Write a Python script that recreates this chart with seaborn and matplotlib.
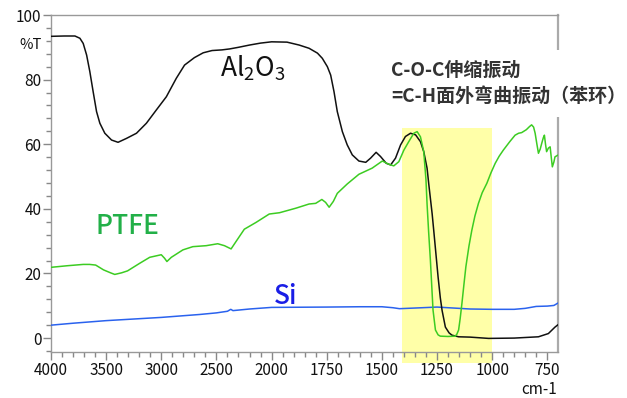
import numpy as np
import pandas as pd
import matplotlib
matplotlib.use("Agg")
import matplotlib.pyplot as plt
import seaborn as sns

# ---------------- data ----------------
al_x = [4000, 3880, 3783, 3738, 3708, 3677, 3648, 3618, 3587, 3557, 3512, 3451, 3392,
        3316, 3225, 3135, 3045, 2954, 2864, 2789, 2700, 2620, 2540, 2450, 2380, 2300,
        2200, 2100, 2000, 1930, 1875, 1830, 1792, 1770, 1747, 1732, 1717, 1702, 1679,
        1657, 1634, 1604, 1573, 1551, 1526, 1506, 1480, 1460, 1438, 1415, 1393, 1370,
        1347, 1325, 1310, 1295, 1287, 1272, 1265, 1245, 1235, 1227, 1212, 1195, 1182,
        1152, 1100, 1016, 900, 790, 745, 715, 700]
al_y = [93.4, 93.5, 93.5, 92.8, 91.2, 87.6, 82.5, 76.3, 70.1, 66.5, 63.4, 61.3, 60.6,
        61.8, 63.4, 66.5, 70.6, 74.7, 80.4, 84.5, 86.8, 88.3, 89.0, 89.2, 89.5, 90.0,
        90.7, 91.3, 91.7, 91.6, 90.7, 89.7, 88.2, 86.6, 84.0, 81.4, 76.3, 70.1, 63.9,
        59.8, 56.7, 54.8, 54.4, 55.7, 57.5, 56.2, 54.1, 53.6, 55.7, 59.8, 62.4, 63.4,
        62.9, 60.8, 57.7, 52.6, 47.5, 38.5, 33.5, 18.9, 12.5, 8.6, 3.4, 1.6, 0.9,
        0.4, 0.3, -0.1, 0.0, 0.4, 1.4, 3.4, 4.2]

ptfe_x = [4000, 3850, 3708, 3650, 3595, 3523, 3460, 3422, 3360, 3306, 3198, 3105, 3000,
          2970, 2949, 2909, 2804, 2714, 2593, 2488, 2427, 2367, 2322, 2247, 2141, 2021,
          1964, 1890, 1830, 1800, 1772, 1755, 1739, 1720, 1702, 1657, 1604, 1544, 1498,
          1468, 1446, 1423, 1400, 1378, 1355, 1340, 1325, 1310, 1300, 1295, 1288, 1280,
          1268, 1257, 1245, 1235, 1200, 1167, 1160, 1152, 1145, 1137, 1128, 1119, 1105,
          1092, 1078, 1062, 1045, 1024, 1005, 986, 968, 949, 920, 896, 880, 866, 845,
          830, 821, 812, 805, 797, 790, 782, 775, 768, 763, 758, 753, 745, 737, 732,
          727, 720, 715, 700]
ptfe_y = [21.9, 22.4, 22.8, 22.8, 22.6, 21.1, 20.2, 19.7, 20.2, 20.8, 23.1, 25.0, 25.8,
          24.7, 23.7, 25.0, 27.3, 28.3, 28.6, 29.2, 28.6, 27.6, 29.9, 33.7, 35.8, 38.4,
          38.8, 40.2, 41.5, 41.7, 42.9, 42.0, 40.5, 42.3, 44.8, 47.7, 50.7, 52.6, 54.8,
          53.8, 53.3, 54.6, 58.2, 60.8, 63.4, 63.9, 62.3, 57.7, 49.0, 41.5, 33.0, 24.2,
          8.7, 2.5, 1.0, 0.6, 0.5, 0.6, 1.2, 2.5, 6.0, 10.7, 16.5, 22.1, 28.5,
          33.4, 37.8, 41.7, 45.0, 47.9, 51.2, 54.1, 56.3, 58.2, 60.8, 62.8, 63.4, 63.6, 64.5,
          65.5, 66.0, 65.3, 63.4, 60.0, 57.2, 58.5, 60.3, 62.0, 62.8, 60.0, 57.7, 58.8, 59.2, 56.0,
          53.0, 54.5, 56.1, 56.7]

si_x = [4000, 3800, 3500, 3000, 2654, 2500, 2400, 2370, 2350, 2200, 2000, 1750, 1600,
        1500, 1450, 1420, 1350, 1250, 1200, 1100, 1000, 900, 850, 800, 750, 720, 700]
si_y = [4.0, 4.6, 5.4, 6.4, 7.3, 7.8, 8.3, 8.9, 8.5, 9.0, 9.5, 9.6, 9.7,
        9.7, 9.4, 9.1, 9.3, 9.6, 9.4, 9.0, 8.9, 8.9, 9.2, 9.8, 9.9, 10.1, 10.9]

band_x = [1410, 1000]
band_y = [-7.8, 65.0]

x_major = [4000, 3500, 3000, 2500, 2000, 1750, 1500, 1250, 1000, 750]
y_major = [0, 20, 40, 60, 80, 100]

# ---------------- figure ----------------
sns.set_theme(style="white")
plt.rcParams['font.family'] = ['Noto Sans CJK JP', 'DejaVu Sans']

W, H = 627, 398
fig = plt.figure(figsize=(W / 100, H / 100), dpi=100)
ax = fig.add_axes([51 / W, 1 - 352.3 / H, (558.3 - 51) / W, (352.3 - 15) / H])

def fwd(x):
    x = np.asarray(x, dtype=float)
    return np.where(x > 2000, 2000 + (x - 2000) / 2.0, x)

def inv(u):
    u = np.asarray(u, dtype=float)
    return np.where(u > 2000, 2000 + (u - 2000) * 2.0, u)

ax.set_xscale('function', functions=(fwd, inv))

# yellow highlight band
ax.fill_between(band_x, band_y[0], band_y[1], color='#ffffa8', lw=0, zorder=0, clip_on=False)

df_al = pd.DataFrame({'x': al_x, 'y': al_y})
df_pt = pd.DataFrame({'x': ptfe_x, 'y': ptfe_y})
df_si = pd.DataFrame({'x': si_x, 'y': si_y})
sns.lineplot(data=df_si, x='x', y='y', ax=ax, color='#2a62ee', lw=1.1, zorder=3)
sns.lineplot(data=df_al, x='x', y='y', ax=ax, color='#111111', lw=1.1, zorder=4)
sns.lineplot(data=df_pt, x='x', y='y', ax=ax, color='#3ccc22', lw=1.1, zorder=5)

ax.set_xlim(4000, 700)
ax.set_ylim(-4.4, 100)
ax.set_xlabel('')
ax.set_ylabel('')

minor_x = list(range(3900, 2000, -100)) + list(range(1950, 700, -50))
minor_x = [m for m in minor_x if m not in x_major]
ax.set_xticks(x_major)
ax.set_xticks(minor_x, minor=True)
ax.set_xticklabels([str(v) for v in x_major])
ax.set_yticks(y_major)
ax.set_yticks([v for v in range(-4, 100, 4) if v not in y_major], minor=True)
ax.set_yticklabels([str(v) for v in y_major])

ax.tick_params(axis='both', which='major', direction='out', length=6, width=1,
               color='#888888', labelsize=11, labelcolor='#111111', pad=1,
               bottom=True, left=True)
ax.tick_params(axis='both', which='minor', direction='out', length=3.5, width=1,
               color='#888888', bottom=True, left=True)

for s in ['left', 'bottom', 'top']:
    ax.spines[s].set_color('#999999')
    ax.spines[s].set_linewidth(1.0)
ax.spines['right'].set_color('#aaaaaa')
ax.spines['right'].set_linewidth(1.6)

def fx(px):
    return px / W

def fy(py):
    return 1 - py / H

fig.text(fx(31), fy(45), '%T', ha='center', va='center', fontsize=10.5, color='#111111')
fig.text(fx(557), fy(389), 'cm-1', ha='right', va='center', fontsize=11, color='#111111')

fig.text(fx(253), fy(68), r'$\mathregular{Al_2O_3}$', ha='center', va='center',
         fontsize=19, color='#111111')
fig.text(fx(127), fy(226), 'PTFE', ha='center', va='center', fontsize=19,
         color='#22b048', fontweight='medium')
fig.text(fx(286), fy(296), 'Si', ha='center', va='center', fontsize=19,
         color='#1a1ee6', fontweight='medium')

fig.text(fx(391), fy(83.5), 'C-O-C伸缩振动\n=C-H面外弯曲振动（苯环）', ha='left', va='center',
         fontsize=13.7, color='#333333', fontweight='bold', linespacing=1.45,
         family=['Noto Sans CJK SC', 'DejaVu Sans'], zorder=10,
         bbox=dict(boxstyle='square,pad=0.6', facecolor='white', edgecolor='none'))

fig.savefig('out.png', dpi=100)
